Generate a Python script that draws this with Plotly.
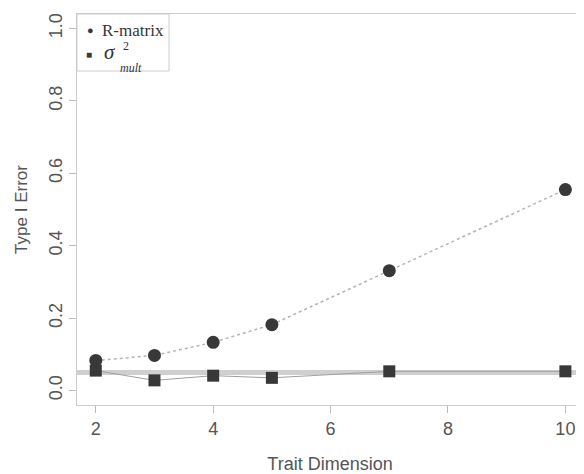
import plotly.graph_objects as go

dims = [2, 3, 4, 5, 7, 10]
r_matrix = [0.083, 0.097, 0.133, 0.182, 0.331, 0.555]
sigma_mult = [0.055, 0.028, 0.041, 0.035, 0.053, 0.053]
nominal_alpha = 0.05
x_ticks = [2, 4, 6, 8, 10]
y_ticks = [0.0, 0.2, 0.4, 0.6, 0.8, 1.0]
y_tick_labels = ["0.0", "0.2", "0.4", "0.6", "0.8", "1.0"]

mark_color = "#383838"
axis_gray = "#555555"
sans = "Liberation Sans, Arial, sans-serif"
serif = "Liberation Serif, Times New Roman, serif"

# the page body adds an 8px offset; size the figure so the plot box lands
# at the same page pixels as the reference
W, H = 576, 466
ML, MR, MT, MB = 69, 1, 6, 69
PW, PH = W - ML - MR, H - MT - MB

fig = go.Figure()

fig.add_hline(y=nominal_alpha, line=dict(color="#cfcfcf", width=5), layer="below")

fig.add_trace(go.Scatter(
    x=dims, y=r_matrix, mode="lines+markers", name="R-matrix", showlegend=False,
    line=dict(color="#b4b4b4", width=1.5, dash="dot"),
    marker=dict(symbol="circle", size=13, color=mark_color),
))
fig.add_trace(go.Scatter(
    x=dims, y=sigma_mult, mode="lines+markers", name="sigma2 mult", showlegend=False,
    line=dict(color="#a0a0a0", width=1),
    marker=dict(symbol="square", size=12, color=mark_color),
))

# legend box drawn as in the reference (R style, top-left inset 0)
def px_to_paper(dx, dy):
    return dx / PW, 1 - dy / PH

lx1, ly0 = px_to_paper(92, 57)
fig.add_shape(type="rect", xref="paper", yref="paper", x0=0, x1=lx1, y0=ly0, y1=1,
              line=dict(color="#cccccc", width=1), fillcolor="white", layer="above")

def legend_text(text, dx, dy, size, color="#333333", family=serif, anchor="left"):
    fig.add_annotation(
        xref="paper", yref="paper", x=0, y=1, xanchor=anchor, yanchor="middle",
        xshift=dx, yshift=-dy, showarrow=False, text=text, borderpad=0,
        font=dict(family=family, size=size, color=color),
    )

legend_text("●", 13, 16, 11, color=mark_color, family=sans, anchor="center")
legend_text("R-matrix", 24, 16, 17)
legend_text("■", 12, 40, 10, color=mark_color, family=sans, anchor="center")
legend_text("<i>σ</i>", 26, 38, 21)
legend_text("2", 45, 32, 12)
legend_text("<i>mult</i>", 42, 54, 12)

fig.update_layout(
    width=W, height=H,
    margin=dict(l=ML, r=MR, t=MT, b=MB),
    plot_bgcolor="white", paper_bgcolor="white",
    font=dict(family=sans, color=axis_gray, size=17),
    showlegend=False,
)

fig.update_xaxes(
    range=[1.68, 10.30], tickvals=x_ticks, ticktext=[str(v) for v in x_ticks],
    showgrid=False, zeroline=False,
    showline=True, mirror=True, linecolor="#cccccc", linewidth=1,
    ticks="outside", ticklen=7, tickcolor="#bbbbbb",
    tickfont=dict(size=18, color=axis_gray),
    title=dict(text="Trait Dimension", font=dict(size=18, color=axis_gray), standoff=19),
)
fig.update_yaxes(
    range=[-0.04, 1.04], tickvals=y_ticks, ticktext=y_tick_labels,
    showgrid=False, zeroline=False,
    showline=True, mirror=True, linecolor="#cccccc", linewidth=1,
    ticks="outside", ticklen=7, tickcolor="#bbbbbb", tickangle=-90,
    tickfont=dict(size=18, color=axis_gray),
    title=dict(text="Type I Error", font=dict(size=17, color=axis_gray), standoff=13),
)

fig.write_html("out.html")
